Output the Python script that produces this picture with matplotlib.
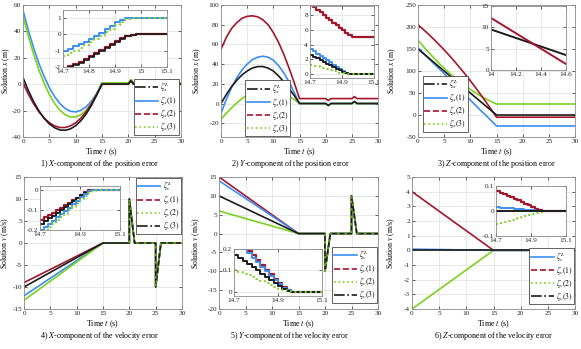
import numpy as np
import matplotlib
matplotlib.use('Agg')
import matplotlib.pyplot as plt
from matplotlib.lines import Line2D

plt.rcParams['font.family'] = ['Liberation Serif', 'DejaVu Serif']
plt.rcParams['mathtext.fontset'] = 'stix'
plt.rcParams['axes.unicode_minus'] = False

BLACK = '#1c1c1c'
BLUE = '#3b8ff0'
RED = '#a3162d'
GREEN = '#7dd11f'

#########################################################
# data
#########################################################

# position error, main curves (t = 0..15, then the bumps after 15 s)
t_pos = [0, 1, 2, 3, 4, 5, 6, 7, 8, 9, 10, 11, 12, 13, 14, 15, 20, 20.5, 21, 25, 25.5, 26, 30]

x_black = [5, -4.7, -13.1, -20.1, -25.8, -30.1, -33, -34.7, -34.9, -33.9, -31.4, -27.6, -22.5, -16, -8.2, 0,
           0, 2.5, 0, 0, -2.5, 0, 0]
x_blue = [56, 41, 27.7, 16, 5.9, -2.6, -9.4, -14.7, -18.4, -20.5, -21, -19.8, -17.1, -12.8, -6.9, 1,
          1, 3.5, 1, 1, -1.5, 1, 1]
x_red = [1, -7.5, -14.7, -20.8, -25.6, -29.2, -31.6, -32.8, -32.8, -31.6, -29.2, -25.6, -20.8, -14.7, -7.5, 0,
         0, 2.5, 0, 0, -2.5, 0, 0]
x_green = [52, 36.6, 23, 11, 0.8, -7.7, -14.6, -19.7, -23.1, -24.8, -24.8, -23.1, -19.7, -14.6, -7.7, 1,
           1, 3.5, 1, 1, -1.5, 1, 1]

y_black = [0, 9, 17, 23.5, 29, 33, 36, 37.5, 37.5, 36, 33, 28, 22, 15, 8, 0,
           0, -2, 0, 0, 2, 0, 0]
y_blue = [-10, 4, 16, 26, 34, 40, 44.5, 47, 48, 47, 44, 38.5, 31, 22, 11, 0,
          0, -2, 0, 0, 2, 0, 0]
y_red = [55, 67, 76, 82, 86.5, 88.5, 89, 88, 85, 80, 72, 62, 50, 36, 21, 5,
         5, 3, 5, 5, 7, 5, 5]
y_green = [-16, -10, -4.5, 0.5, 5, 8.5, 11.5, 13.5, 14.8, 15, 14.5, 13, 10.5, 7.5, 4, 0,
           0, -2, 0, 0, 2, 0, 0]

z_black = [150, 140, 130, 120, 110, 100, 90, 80, 70, 60, 50, 40, 30, 20, 10, 0,
           0, 0, 0, 0, 0, 0, 0]
z_blue = [153, 141, 129, 117, 106, 94, 82, 70, 58, 46, 34, 22, 10, -1, -13, -25,
          -25, -25, -25, -25, -25, -25, -25]
z_red = [205, 194.6, 183.8, 172.3, 160.4, 148, 135, 121.5, 107.4, 93, 77.8, 62.2, 46, 29.4, 12.3, -5,
         -5, -5, -5, -5, -5, -5, -5]
z_green = [170, 156.1, 142.8, 130, 117.9, 106.4, 95.5, 85.3, 75.7, 66.5, 58.1, 50.3, 43, 36.4, 30.4, 25,
           25, 25, 25, 25, 25, 25, 25]

# velocity error, main curves
t_vel = [0, 15, 20, 20, 21, 25, 25, 26, 30]

vx_blue = [-12, 0, 0, 10, 0, 0, -10, 0, 0]
vx_red = [-9, 0, 0, 10, 0, 0, -10, 0, 0]
vx_green = [-13, 0, 0, 10, 0, 0, -10, 0, 0]
vx_black = [-10, 0, 0, 10, 0, 0, -10, 0, 0]

vy_blue = [14, 0, 0, -10, 0, 0, 10, 0, 0]
vy_red = [15, 0, 0, -10, 0, 0, 10, 0, 0]
vy_green = [6, 0, 0, -10, 0, 0, 10, 0, 0]
vy_black = [10, 0, 0, -10, 0, 0, 10, 0, 0]

vz_blue = [0.08, 0, 0, 0, 0, 0, 0, 0, 0]
vz_red = [4, 0, 0, 0, 0, 0, 0, 0, 0]
vz_green = [-4, 0, 0, 0, 0, 0, 0, 0, 0]
vz_black = [0, 0, 0, 0, 0, 0, 0, 0, 0]

# zoomed windows around t = 15 s
t_zoom = np.round(np.arange(14.70, 15.101, 0.02), 2)

zx_blue = [-1.0, -0.88, -0.74, -0.6, -0.45, -0.28, -0.1, 0.1, 0.32, 0.54, 0.75, 0.9, 0.98, 1, 1, 1, 1, 1, 1, 1, 1]
zx_green = [-1.3, -1.16, -1.0, -0.84, -0.67, -0.49, -0.3, -0.1, 0.12, 0.35, 0.58, 0.78, 0.92, 0.99, 1, 1, 1, 1, 1, 1, 1]
zx_red = [-2.1, -1.95, -1.83, -1.69, -1.53, -1.35, -1.17, -0.98, -0.8, -0.61, -0.42, -0.24, -0.09, -0.01, 0, 0, 0, 0, 0, 0, 0]
zx_black = [-2.15, -2.0, -1.88, -1.74, -1.58, -1.4, -1.22, -1.03, -0.85, -0.66, -0.47, -0.28, -0.12, -0.03, 0, 0, 0, 0, 0, 0, 0]

zy_red = [9.4, 9.05, 8.7, 8.35, 8.0, 7.65, 7.3, 6.95, 6.6, 6.25, 5.9, 5.55, 5.25, 5.08, 5.02, 5, 5, 5, 5, 5, 5]
zy_blue = [3.4, 3.1, 2.8, 2.5, 2.2, 1.9, 1.6, 1.3, 1.0, 0.7, 0.42, 0.18, 0.05, 0, 0, 0, 0, 0, 0, 0, 0]
zy_black = [2.6, 2.37, 2.14, 1.91, 1.68, 1.45, 1.22, 0.99, 0.76, 0.53, 0.31, 0.13, 0.03, 0, 0, 0, 0, 0, 0, 0, 0]
zy_green = [1.3, 1.18, 1.06, 0.94, 0.82, 0.7, 0.58, 0.46, 0.34, 0.22, 0.11, 0.03, 0, 0, 0, 0, 0, 0, 0, 0, 0]

t_zoom_z = [14.0, 14.6]
zz_black = [9.5, 3.5]
zz_red = [12.2, 1.4]

zvx_red = [-0.15, -0.138, -0.126, -0.114, -0.102, -0.09, -0.078, -0.065, -0.052, -0.039, -0.026, -0.013, -0.004, 0, 0, 0, 0, 0, 0, 0, 0]
zvx_black = [-0.17, -0.157, -0.143, -0.129, -0.115, -0.101, -0.087, -0.073, -0.058, -0.043, -0.029, -0.015, -0.005, 0, 0, 0, 0, 0, 0, 0, 0]
zvx_blue = [-0.2, -0.185, -0.17, -0.154, -0.138, -0.122, -0.106, -0.09, -0.073, -0.056, -0.038, -0.021, -0.008, -0.001, 0, 0, 0, 0, 0, 0, 0]
zvx_green = [-0.215, -0.2, -0.184, -0.168, -0.152, -0.136, -0.12, -0.103, -0.086, -0.068, -0.05, -0.032, -0.016, -0.005, 0, 0, 0, 0, 0, 0, 0]

zvy_red = [0.25, 0.23, 0.21, 0.19, 0.17, 0.148, 0.126, 0.104, 0.082, 0.06, 0.04, 0.022, 0.008, 0.001, 0, 0, 0, 0, 0, 0, 0]
zvy_blue = [0.24, 0.22, 0.2, 0.18, 0.16, 0.138, 0.116, 0.095, 0.074, 0.054, 0.035, 0.018, 0.006, 0.001, 0, 0, 0, 0, 0, 0, 0]
zvy_black = [0.17, 0.157, 0.143, 0.129, 0.115, 0.1, 0.085, 0.07, 0.055, 0.04, 0.026, 0.013, 0.004, 0, 0, 0, 0, 0, 0, 0, 0]
zvy_green = [0.1, 0.092, 0.084, 0.076, 0.068, 0.06, 0.051, 0.042, 0.033, 0.024, 0.015, 0.007, 0.002, 0, 0, 0, 0, 0, 0, 0, 0]

zvz_red = [0.08, 0.074, 0.068, 0.062, 0.056, 0.05, 0.044, 0.037, 0.03, 0.023, 0.016, 0.009, 0.003, 0, 0, 0, 0, 0, 0, 0, 0]
zvz_blue = [0.015, 0.014, 0.013, 0.012, 0.011, 0.01, 0.009, 0.007, 0.006, 0.005, 0.003, 0.002, 0.001, 0, 0, 0, 0, 0, 0, 0, 0]
zvz_green = [-0.05, -0.046, -0.042, -0.038, -0.034, -0.03, -0.026, -0.022, -0.018, -0.014, -0.01, -0.006, -0.002, 0, 0, 0, 0, 0, 0, 0, 0]
zvz_black = [0] * 21

captions = ['1) $X$-component of the position error', '2) $Y$-component of the position error',
            '3) $Z$-component of the position error', '4) $X$-component of the velocity error',
            '5) $Y$-component of the velocity error', '6) $Z$-component of the velocity error']

#########################################################
# figure
#########################################################
W, H = 581, 349
fig = plt.figure(figsize=(W / 100, H / 100), dpi=100)


def px_axes(l, t, r, b):
    return fig.add_axes([l / W, 1 - b / H, (r - l) / W, (b - t) / H])


def style(ax):
    ax.grid(True, color='#dedede', lw=0.5)
    ax.set_axisbelow(True)
    ax.tick_params(direction='in', length=2, width=0.5, labelsize=5.2, colors='#262626',
                   top=True, right=True, pad=1.5)
    for s in ax.spines.values():
        s.set_color('#8c8c8c')
        s.set_linewidth(0.6)


def main_labels(ax, ylab, off_px):
    # off_px: distance (pixels) from the left spine to the right side of the y label
    ax.set_xlim(0, 30)
    ax.set_xticks(range(0, 31, 5))
    ax.set_xlabel('Time $t$ (s)', fontsize=5.8, labelpad=1.5)
    ax.set_ylabel(ylab, fontsize=5.6)
    w = ax.get_position().width * W
    ax.yaxis.set_label_coords(-off_px / w, 0.5)


def add_legend(ax, entries, **kw):
    handles = [Line2D([], [], color=c, ls=ls, lw=1.2) for c, ls, _ in entries]
    labels = [lab for _, _, lab in entries]
    leg = ax.legend(handles, labels, fontsize=5.5, handlelength=3.0, handletextpad=0.3,
                    labelspacing=0.0, borderpad=0.2, fancybox=False, framealpha=1, **kw)
    leg.get_frame().set_edgecolor('#262626')
    leg.get_frame().set_linewidth(0.5)


lw = 1.2
pos_leg = lambda s: [(BLACK, '-.', r'$\zeta_{%s}^L$' % s), (BLUE, '-', r'$\zeta_{%s}(1)$' % s),
                     (RED, '--', r'$\zeta_{%s}(2)$' % s), (GREEN, ':', r'$\zeta_{%s}(3)$' % s)]
vel_leg = [(BLUE, '-', r'$\zeta_v^L$'), (RED, '--', r'$\zeta_v(1)$'),
           (GREEN, ':', r'$\zeta_v(2)$'), (BLACK, '-.', r'$\zeta_v(3)$')]

# ---- panel 1
ax = px_axes(23, 5, 181, 137)
ax.plot(t_pos, x_blue, color=BLUE, lw=lw)
ax.plot(t_pos, x_green, color=GREEN, lw=lw)
ax.plot(t_pos, x_red, color=RED, lw=lw)
ax.plot(t_pos, x_black, color=BLACK, lw=lw)
ax.set_ylim(-40, 60)
ax.set_yticks(range(-40, 61, 20))
main_labels(ax, 'Solution $x$ (m)', 11)
add_legend(ax, pos_leg('x'), loc='lower right', borderaxespad=0.3)
style(ax)
ins = px_axes(63, 10, 167, 67)
ins.plot(t_zoom, zx_red, color=RED, lw=1.6, drawstyle='steps-post')
ins.plot(t_zoom, zx_black, color=BLACK, lw=1.2, drawstyle='steps-post')
ins.plot(t_zoom, zx_blue, color=BLUE, lw=1.4, drawstyle='steps-post')
ins.plot(t_zoom, zx_green, color=GREEN, lw=1.4, ls=':', drawstyle='steps-post')
ins.set_xlim(14.7, 15.1); ins.set_ylim(-2, 1.5)
ins.set_xticks([14.7, 14.8, 14.9, 15, 15.1])
ins.set_xticklabels(['14.7', '14.8', '14.9', '15', '15.1'])
ins.set_yticks([-2, -1, 0, 1])
style(ins)

# ---- panel 2
ax = px_axes(221, 5, 378, 137)
ax.plot(t_pos, y_red, color=RED, lw=lw)
ax.plot(t_pos, y_blue, color=BLUE, lw=lw)
ax.plot(t_pos, y_green, color=GREEN, lw=lw)
ax.plot(t_pos, y_black, color=BLACK, lw=lw)
ax.set_ylim(-34, 100)
ax.set_yticks(range(-20, 101, 20))
main_labels(ax, 'Solution $x$ (m)', 18)
add_legend(ax, pos_leg('x'), loc='lower left', bbox_to_anchor=(0.15, 0.0), borderaxespad=0.1)
style(ax)
ins = px_axes(310, 6, 374, 78)
ins.plot(t_zoom, zy_red, color=RED, lw=1.6, drawstyle='steps-post')
ins.plot(t_zoom, zy_blue, color=BLUE, lw=1.4, drawstyle='steps-post')
ins.plot(t_zoom, zy_black, color=BLACK, lw=1.4, drawstyle='steps-post')
ins.plot(t_zoom, zy_green, color=GREEN, lw=1.4, ls=':', drawstyle='steps-post')
ins.set_xlim(14.7, 15.1); ins.set_ylim(-0.5, 9.2)
ins.set_xticks([14.7, 14.9, 15.1]); ins.set_yticks([0, 2, 4, 6, 8])
style(ins)

# ---- panel 3
ax = px_axes(418, 5, 575, 137)
ax.plot(t_pos, z_green, color=GREEN, lw=lw)
ax.plot(t_pos, z_blue, color=BLUE, lw=lw)
ax.plot(t_pos, z_red, color=RED, lw=lw)
ax.plot(t_pos, z_black, color=BLACK, lw=lw)
ax.set_ylim(-50, 250)
ax.set_yticks(range(-50, 251, 50))
main_labels(ax, 'Solution $x$ (m)', 20)
add_legend(ax, pos_leg('x'), loc='lower left', bbox_to_anchor=(0.03, 0.04), borderaxespad=0.0)
style(ax)
ins = px_axes(491, 6, 566, 70)
ins.plot(t_zoom_z, zz_black, color=BLACK, lw=1.4)
ins.plot(t_zoom_z, zz_red, color=RED, lw=1.4)
ins.set_xlim(14, 14.6); ins.set_ylim(0, 15)
ins.set_xticks([14, 14.2, 14.4, 14.6])
ins.set_xticklabels(['14', '14.2', '14.4', '14.6'])
ins.set_yticks([0, 5, 10, 15])
style(ins)

# ---- panel 4
ax = px_axes(24, 177, 182, 309)
ax.plot(t_vel, vx_red, color=RED, lw=lw)
ax.plot(t_vel, vx_blue, color=BLUE, lw=lw)
ax.plot(t_vel, vx_green, color=GREEN, lw=lw)
ax.plot(t_vel, vx_black, color=BLACK, lw=lw)
ax.plot(t_vel[2:], vx_green[2:], color=GREEN, lw=lw, ls=(0, (1.5, 3)), alpha=0.8)
ax.set_ylim(-15, 15)
ax.set_yticks(range(-15, 16, 5))
main_labels(ax, 'Solution $v$ (m/s)', 13)
add_legend(ax, vel_leg, loc='upper right', borderaxespad=0.15)
style(ax)
ins = px_axes(40, 186, 120, 230)
ins.plot(t_zoom, zvx_red, color=RED, lw=1.6, drawstyle='steps-post')
ins.plot(t_zoom, zvx_black, color=BLACK, lw=1.4, drawstyle='steps-post')
ins.plot(t_zoom, zvx_blue, color=BLUE, lw=1.4, drawstyle='steps-post')
ins.plot(t_zoom, zvx_green, color=GREEN, lw=1.4, ls=':', drawstyle='steps-post')
ins.set_xlim(14.7, 15.1); ins.set_ylim(-0.2, 0.018)
ins.set_xticks([14.7, 14.9, 15.1]); ins.set_yticks([-0.2, -0.1, 0])
ins.set_yticklabels(['-0.2', '-0.1', '0'])
style(ins)

# ---- panel 5
ax = px_axes(219, 177, 378, 309)
ax.plot(t_vel, vy_red, color=RED, lw=lw)
ax.plot(t_vel, vy_blue, color=BLUE, lw=lw)
ax.plot(t_vel, vy_green, color=GREEN, lw=lw)
ax.plot(t_vel, vy_black, color=BLACK, lw=lw)
ax.plot(t_vel[2:], vy_green[2:], color=GREEN, lw=lw, ls=(0, (1.5, 3)), alpha=0.8)
ax.set_ylim(-20, 15)
ax.set_yticks(range(-20, 16, 5))
main_labels(ax, 'Solution $v$ (m/s)', 17)
add_legend(ax, vel_leg, loc='lower right', bbox_to_anchor=(1.0, 0.04), borderaxespad=0.1)
style(ax)
ins = px_axes(234, 249, 322, 296)
ins.plot(t_zoom, zvy_red, color=RED, lw=1.6, drawstyle='steps-post')
ins.plot(t_zoom, zvy_blue, color=BLUE, lw=1.4, drawstyle='steps-post')
ins.plot(t_zoom, zvy_black, color=BLACK, lw=1.4, drawstyle='steps-post')
ins.plot(t_zoom, zvy_green, color=GREEN, lw=1.4, ls=':', drawstyle='steps-post')
ins.set_xlim(14.7, 15.1); ins.set_ylim(-0.02, 0.2)
ins.set_xticks([14.7, 14.9, 15.1]); ins.set_yticks([0, 0.1, 0.2])
ins.set_yticklabels(['0', '0.1', '0.2'])
style(ins)

# ---- panel 6
ax = px_axes(412, 177, 575, 309)
ax.plot(t_vel, vz_red, color=RED, lw=lw)
ax.plot(t_vel, vz_green, color=GREEN, lw=lw)
ax.plot(t_vel, vz_blue, color=BLUE, lw=lw)
ax.plot(t_vel, vz_black, color=BLACK, lw=lw)
ax.set_ylim(-4, 5)
ax.set_yticks(range(-4, 6, 1))
main_labels(ax, 'Solution $v$ (m/s)', 15)
add_legend(ax, vel_leg, loc='lower right', bbox_to_anchor=(1.0, 0.03), borderaxespad=0.1)
style(ax)
ins = px_axes(496, 186, 566, 236)
ins.plot(t_zoom, zvz_red, color=RED, lw=1.6, drawstyle='steps-post')
ins.plot(t_zoom, zvz_blue, color=BLUE, lw=1.4, drawstyle='steps-post')
ins.plot(t_zoom, zvz_green, color=GREEN, lw=1.4, ls=':', drawstyle='steps-post')
ins.plot(t_zoom, zvz_black, color=BLACK, lw=1.4, drawstyle='steps-post')
ins.set_xlim(14.7, 15.1); ins.set_ylim(-0.1, 0.1)
ins.set_xticks([14.7, 14.9, 15.1]); ins.set_yticks([-0.1, 0, 0.1])
ins.set_yticklabels(['-0.1', '0', '0.1'])
style(ins)

# captions under each panel
cap_xy = [(100, 164), (291, 164), (497, 164), (100, 336), (290, 336), (494, 336)]
for (cx, cy), txt in zip(cap_xy, captions):
    fig.text(cx / W, 1 - cy / H, txt, ha='center', va='center', fontsize=5.8)

fig.savefig('out.png', dpi=100)
